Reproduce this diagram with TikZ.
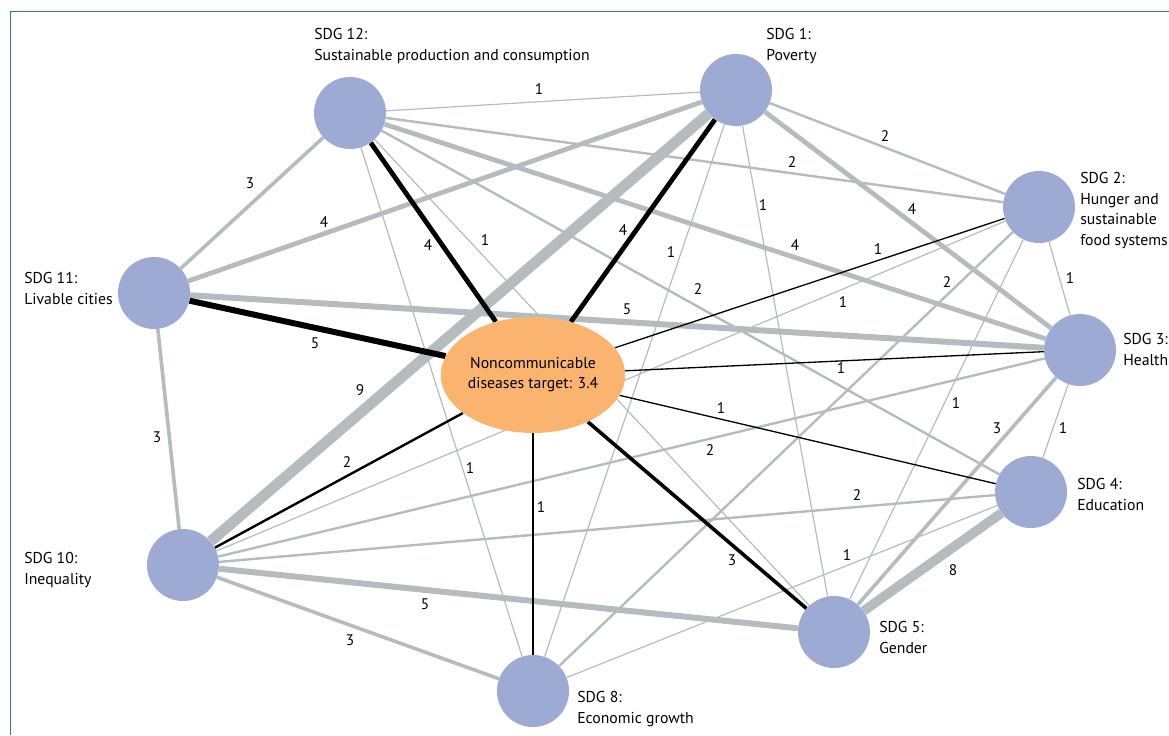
\documentclass[tikz,border=0pt]{standalone}
\usepackage{fontspec}
\setmainfont{PT Sans}
\usetikzlibrary{shapes.geometric, backgrounds}
\definecolor{sdgblue}{RGB}{157,170,212}
\definecolor{ncdorange}{RGB}{250,180,112}
\definecolor{linkgray}{RGB}{180,188,192}
\definecolor{framegreen}{RGB}{40,135,90}

\begin{document}
\begin{tikzpicture}[x=0.75pt, y=-0.75pt,
                sdg/.style={circle, fill=sdgblue, minimum size=54pt, inner sep=0pt},
                ncd/.style={ellipse, fill=ncdorange, minimum width=135pt,
                    minimum height=87pt, inner sep=0pt, align=center,
                    font=\fontsize{11.8}{15}\selectfont},
                sdglbl/.style={anchor=north west, inner sep=0pt, align=left,
                    font=\fontsize{11.8}{15.5}\selectfont},
                num/.style={inner sep=0pt, font=\fontsize{11.5}{13}\selectfont},
                link/.style={draw=linkgray, line width=#1*0.9pt},
                tie/.style={draw=black, line width=#1*0.9pt}
            ]
            \useasboundingbox (0,0) rectangle (1169,735);

            % Frame
            \draw[framegreen, line width=0.75pt] (10,735) -- (10,12) -- (1169,12);

            % Goals
            \node[sdg] (s12) at (350,113) {};
            \node[sdg] (s1) at (736,90) {};
            \node[sdg] (s2) at (1039,207) {};
            \node[sdg] (s3) at (1080,350) {};
            \node[sdg] (s4) at (1031,492) {};
            \node[sdg] (s5) at (834,632) {};
            \node[sdg] (s8) at (533,691) {};
            \node[sdg] (s10) at (183,565) {};
            \node[sdg] (s11) at (154,293) {};

            % Target
            \node[ncd] (ncd) at (533,375) {Noncommunicable\\diseases target: 3.4};

            % Goal labels
            \node[sdglbl] (t12) at (314,28) {SDG 12:\\Sustainable production and consumption};
            \node[sdglbl] (t1) at (766,28) {SDG 1:\\Poverty};
            \node[sdglbl] (t2) at (1080,172) {SDG 2:\\Hunger and\\sustainable\\food systems};
            \node[sdglbl] (t3) at (1123,333) {SDG 3:\\Health};
            \node[sdglbl] (t4) at (1077,478) {SDG 4:\\Education};
            \node[sdglbl] (t5) at (879,621) {SDG 5:\\Gender};
            \node[sdglbl] (t8) at (577,691) {SDG 8:\\Economic growth};
            \node[sdglbl] (t10) at (24,552) {SDG 10:\\Inequality};
            \node[sdglbl] (t11) at (24,272) {SDG 11:\\Livable cities};

            \begin{scope}[on background layer]
            % Links between goals
            \draw[link=1] (s12) -- (s1);
            \draw[link=3] (s12) -- (s11);
            \draw[link=2] (s12) -- (s2);
            \draw[link=4] (s12) -- (s3);
            \draw[link=2] (s12) -- (s4);
            \draw[link=1] (s12) -- (s5);
            \draw[link=1] (s12) -- (s8);
            \draw[link=2] (s1) -- (s2);
            \draw[link=4] (s1) -- (s3);
            \draw[link=4] (s1) -- (s11);
            \draw[link=9] (s1) -- (s10);
            \draw[link=1] (s1) -- (s5);
            \draw[link=1] (s1) -- (s8);
            \draw[link=1] (s2) -- (s3);
            \draw[link=1] (s2) -- (s10);
            \draw[link=2] (s2) -- (s8);
            \draw[link=1] (s2) -- (s5);
            \draw[link=5] (s3) -- (s11);
            \draw[link=2] (s3) -- (s10);
            \draw[link=3] (s3) -- (s5);
            \draw[link=1] (s3) -- (s4);
            \draw[link=2] (s4) -- (s10);
            \draw[link=8] (s4) -- (s5);
            \draw[link=1] (s4) -- (s8);
            \draw[link=5] (s5) -- (s10);
            \draw[link=3] (s8) -- (s10);
            \draw[link=3] (s10) -- (s11);

            % Links to the target
            \draw[tie=4] (ncd) -- (s12);
            \draw[tie=4] (ncd) -- (s1);
            \draw[tie=5] (ncd) -- (s11);
            \draw[tie=2] (ncd) -- (s10);
            \draw[tie=1.1] (ncd) -- (s8);
            \draw[tie=3] (ncd) -- (s5);
            \draw[tie=1.1] (ncd) -- (s4);
            \draw[tie=1.1] (ncd) -- (s3);
            \draw[tie=1.1] (ncd) -- (s2);
            \end{scope}

            % Link counts
            \node[num] (n12-1) at (539,89) {1};
            \node[num] (n12-11) at (250,183) {3};
            \node[num] (n12-2) at (792,162) {2};
            \node[num] (n12-3) at (795,245) {4};
            \node[num] (n12-4) at (698,289) {2};
            \node[num] (n12-5) at (485,240) {1};
            \node[num] (n12-8) at (470,468) {1};
            \node[num] (n1-2) at (885,136) {2};
            \node[num] (n1-3) at (912,209) {4};
            \node[num] (n1-11) at (324,222) {4};
            \node[num] (n1-10) at (360,390) {9};
            \node[num] (n1-5) at (763,205) {1};
            \node[num] (n1-8) at (671,252) {1};
            \node[num] (n2-3) at (1070,278) {1};
            \node[num] (n2-10) at (843,302) {1};
            \node[num] (n2-8) at (947,282) {2};
            \node[num] (n2-5) at (956,403) {1};
            \node[num] (n3-11) at (627,309) {5};
            \node[num] (n3-10) at (710,450) {2};
            \node[num] (n3-5) at (997,428) {3};
            \node[num] (n3-4) at (1063,428) {1};
            \node[num] (n4-10) at (857,495) {2};
            \node[num] (n4-5) at (953,570) {8};
            \node[num] (n4-8) at (847,555) {1};
            \node[num] (n5-10) at (425,604) {5};
            \node[num] (n8-10) at (350,640) {3};
            \node[num] (n10-11) at (157,437) {3};
            \node[num] (nt-12) at (428,245) {4};
            \node[num] (nt-1) at (623,230) {4};
            \node[num] (nt-11) at (315,343) {5};
            \node[num] (nt-10) at (347,462) {2};
            \node[num] (nt-8) at (541,507) {1};
            \node[num] (nt-5) at (732,560) {3};
            \node[num] (nt-4) at (721,408) {1};
            \node[num] (nt-3) at (841,368) {1};
            \node[num] (nt-2) at (878,249) {1};

            \end{tikzpicture}
\end{document}
